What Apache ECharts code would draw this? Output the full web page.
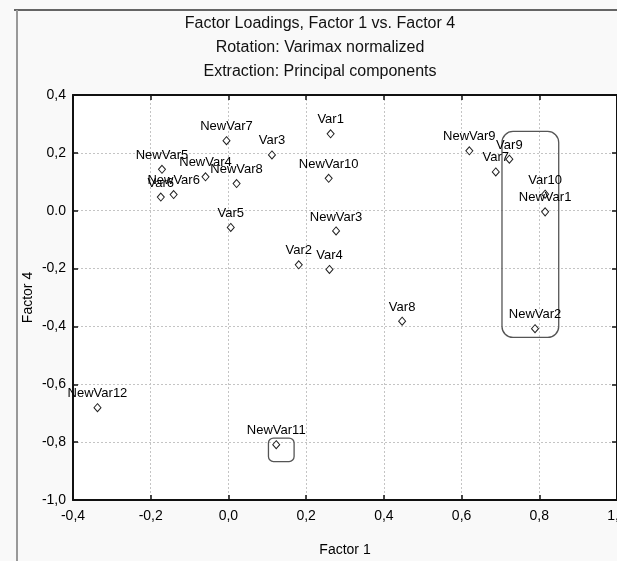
<!DOCTYPE html>
<html><head><meta charset="utf-8">
<script src="https://cdn.jsdelivr.net/npm/echarts@6/dist/echarts.min.js"></script>
<style>html,body{margin:0;padding:0;background:#f9f9f9}#c{width:617px;height:561px}</style>
</head><body><div id="c"></div>
<script>
// ---- data ----
var names = ["Var1","NewVar10","NewVar3","Var2","Var4","Var3","NewVar7","NewVar5","NewVar4","NewVar8","Var5","NewVar6","Var6","NewVar9","Var9","Var7","Var10","NewVar1","NewVar2","Var8","NewVar12","NewVar11"];
var factor1 = [0.263,0.258,0.277,0.181,0.260,0.112,-0.005,-0.171,-0.059,0.021,0.006,-0.141,-0.174,0.620,0.723,0.688,0.815,0.815,0.789,0.447,-0.337,0.123];
var factor4 = [0.266,0.112,-0.070,-0.187,-0.203,0.193,0.242,0.143,0.117,0.094,-0.058,0.056,0.047,0.207,0.178,0.134,0.057,-0.004,-0.408,-0.382,-0.681,-0.809];
var xTickLabels = ["-0,4","-0,2","0,0","0,2","0,4","0,6","0,8","1,0"];
var yTickLabels = ["-1,0","-0,8","-0,6","-0,4","-0,2","0.0","0,2","0,4"];
// highlighted groups (x0, y0, x1, y1 in data units)
var boxX0 = [0.704, 0.103];
var boxY0 = [0.274, -0.786];
var boxX1 = [0.850, 0.169];
var boxY1 = [-0.438, -0.867];
var titleLines = ["Factor Loadings, Factor 1 vs. Factor 4","Rotation: Varimax normalized","Extraction: Principal components"];

var FONT = "'Liberation Sans', Arial, sans-serif";
var pts = names.map(function(n,i){ return {name:n, value:[factor1[i], factor4[i]]}; });
var boxes = boxX0.map(function(v,i){ return [v, boxY0[i], boxX1[i], boxY1[i], i]; });

var axisCommon = {
  axisLine:{show:true, onZero:false, lineStyle:{color:'#111', width:2}},
  axisTick:{show:true, inside:true, length:5, lineStyle:{color:'#111', width:1.5}},
  splitLine:{show:false}
};
var chart = echarts.init(document.getElementById('c'));
chart.setOption({
  backgroundColor:'#f9f9f9',
  animation:false,
  graphic:[
    {type:'line', shape:{x1:14,y1:10,x2:617,y2:10}, style:{stroke:'#333', lineWidth:1.5}},
    {type:'line', shape:{x1:17,y1:10,x2:17,y2:561}, style:{stroke:'#999', lineWidth:2}},
    {type:'text', x:320, y:24, style:{text:titleLines[0], font:'16px '+FONT, fill:'#111', textAlign:'center', textVerticalAlign:'middle'}},
    {type:'text', x:320, y:48, style:{text:titleLines[1], font:'16px '+FONT, fill:'#111', textAlign:'center', textVerticalAlign:'middle'}},
    {type:'text', x:320, y:72, style:{text:titleLines[2], font:'16px '+FONT, fill:'#111', textAlign:'center', textVerticalAlign:'middle'}}
  ],
  grid:{left:73, top:95, width:544, height:405, show:true, backgroundColor:'#ffffff', borderWidth:0,
    containLabel:false, outerBoundsMode:'none'},
  xAxis:[
    Object.assign({type:'value', position:'bottom', min:-0.4, max:1.0, interval:0.2,
      name:'Factor 1', nameLocation:'middle', nameGap:43, nameMoveOverlap:false,
      nameTextStyle:{fontFamily:FONT, fontSize:14, color:'#000'},
      axisLabel:{fontFamily:FONT, fontSize:14, color:'#000', margin:9, hideOverlap:false,
        formatter:function(v){ return xTickLabels[Math.round((v+0.4)/0.2)]; }},
      }, axisCommon, {splitLine:{show:true, lineStyle:{color:'#c4c4c4', type:[2,2], width:1}}}),
    Object.assign({type:'value', position:'top', min:-0.4, max:1.0, interval:0.2,
      axisLabel:{show:false}}, axisCommon)
  ],
  yAxis:[
    Object.assign({type:'value', position:'left', min:-1.0, max:0.4, interval:0.2,
      name:'Factor 4', nameLocation:'middle', nameGap:38, nameRotate:90, nameMoveOverlap:false,
      nameTextStyle:{fontFamily:FONT, fontSize:14, color:'#000'},
      axisLabel:{fontFamily:FONT, fontSize:14, color:'#000', margin:7,
        formatter:function(v){ return yTickLabels[Math.round((v+1.0)/0.2)]; }},
      }, axisCommon, {splitLine:{show:true, lineStyle:{color:'#c4c4c4', type:[2,2], width:1}}}),
    Object.assign({type:'value', position:'right', min:-1.0, max:0.4, interval:0.2,
      axisLabel:{show:false}}, axisCommon)
  ],
  series:[
    {
      type:'scatter', xAxisIndex:0, yAxisIndex:0,
      symbol:'diamond', symbolSize:[7,8],
      itemStyle:{color:'#ffffff', borderColor:'#222', borderWidth:1, opacity:1},
      label:{show:true, position:'top', distance:3, formatter:'{b}',
        fontFamily:FONT, fontSize:13, color:'#000', opacity:1},
      labelLayout:{hideOverlap:false},
      emphasis:{disabled:true},
      data:pts, z:5
    },
    {
      type:'custom', xAxisIndex:0, yAxisIndex:0,
      renderItem:function(params, api){
        var p0 = api.coord([api.value(0), api.value(1)]);
        var p1 = api.coord([api.value(2), api.value(3)]);
        var w = p1[0]-p0[0], h = p1[1]-p0[1];
        var r = api.value(4) === 0 ? 11 : 5;
        return {type:'rect', shape:{x:p0[0], y:p0[1], width:w, height:h, r:r},
          style:{fill:'none', stroke:'#555', lineWidth:1.3}};
      },
      data:boxes, z:4, silent:true
    }
  ]
});
</script></body></html>
